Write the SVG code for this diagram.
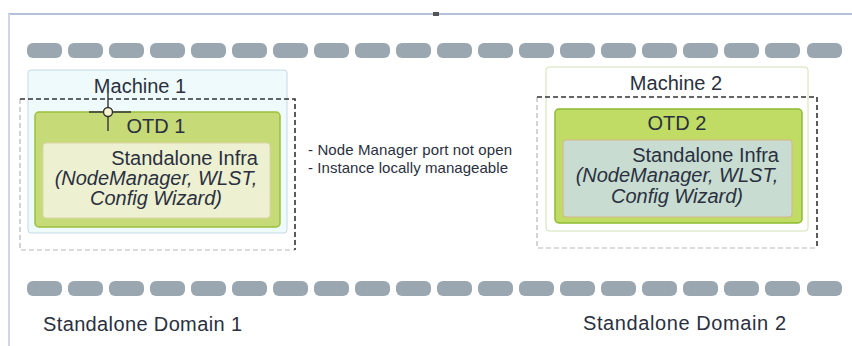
<svg xmlns="http://www.w3.org/2000/svg" width="852" height="346" viewBox="0 0 852 346">
<style>
text{font-family:"Liberation Sans",Arial,sans-serif;fill:#2a3040}
.big{font-size:20px}
.it{font-style:italic}
.note{font-size:15px}
.pill{fill:#9aa6b0}
.dk{stroke:#333;stroke-width:1.6;stroke-dasharray:5 3;fill:none}
.lt{stroke:#b8b8b8;stroke-width:1.2;stroke-dasharray:5 3;fill:none}
</style>
<defs>
<rect id="p" width="35" height="15" rx="6" class="pill"/>
</defs>
<rect width="852" height="346" fill="#fff"/>
<g id="frame">
<line x1="8" y1="14" x2="852" y2="14" stroke="#b6c2dc" stroke-width="2"/>
<line x1="9" y1="14" x2="9" y2="346" stroke="#d2d6ec" stroke-width="2"/>
<rect x="433" y="12" width="6" height="4" fill="#555"/>
</g>
<g id="pills-top">
<use href="#p" x="27" y="43"/><use href="#p" x="68" y="43"/><use href="#p" x="109" y="43"/><use href="#p" x="150" y="43"/><use href="#p" x="191" y="43"/><use href="#p" x="232" y="43"/><use href="#p" x="273" y="43"/><use href="#p" x="314" y="43"/><use href="#p" x="355" y="43"/><use href="#p" x="396" y="43"/><use href="#p" x="437" y="43"/><use href="#p" x="478" y="43"/><use href="#p" x="519" y="43"/><use href="#p" x="560" y="43"/><use href="#p" x="601" y="43"/><use href="#p" x="642" y="43"/><use href="#p" x="683" y="43"/><use href="#p" x="724" y="43"/><use href="#p" x="765" y="43"/><use href="#p" x="807" y="43"/>
</g>
<g id="pills-bottom">
<use href="#p" x="27" y="281"/><use href="#p" x="68" y="281"/><use href="#p" x="109" y="281"/><use href="#p" x="150" y="281"/><use href="#p" x="191" y="281"/><use href="#p" x="232" y="281"/><use href="#p" x="273" y="281"/><use href="#p" x="314" y="281"/><use href="#p" x="355" y="281"/><use href="#p" x="396" y="281"/><use href="#p" x="437" y="281"/><use href="#p" x="478" y="281"/><use href="#p" x="519" y="281"/><use href="#p" x="560" y="281"/><use href="#p" x="601" y="281"/><use href="#p" x="642" y="281"/><use href="#p" x="683" y="281"/><use href="#p" x="724" y="281"/><use href="#p" x="765" y="281"/><use href="#p" x="807" y="281"/>
</g>
<g id="machine1">
<rect x="28" y="70" width="259" height="163" rx="3" fill="#eefafb" stroke="#c6d8e6" stroke-width="1"/>
<text class="big" x="140" y="93" text-anchor="middle">Machine 1</text>
</g>
<g id="domain1-box">
<path class="lt" d="M20 99 V250 H295"/>
<path class="dk" d="M20 99 H295 V250"/>
</g>
<g id="otd1">
<rect x="35" y="112" width="245" height="115" rx="4" fill="#c6da78" stroke="#98c03c" stroke-width="1.5"/>
<text class="big" x="156" y="133" text-anchor="middle">OTD 1</text>
</g>
<g id="infra1">
<rect x="43" y="143" width="227" height="75" rx="3" fill="#eef0d2" stroke="#d8d6a8" stroke-width="1"/>
<text class="big" x="258" y="165" text-anchor="end">Standalone Infra</text>
<text class="big it" x="156" y="185" text-anchor="middle">(NodeManager, WLST,</text>
<text class="big it" x="156" y="205" text-anchor="middle">Config Wizard)</text>
</g>
<g id="marker1">
<line x1="89" y1="112" x2="131" y2="112" stroke="#333" stroke-width="1.4"/>
<line x1="108" y1="93" x2="108" y2="131" stroke="#333" stroke-width="1.4"/>
<circle cx="108" cy="112" r="4.5" fill="#f4f2d0" stroke="#333" stroke-width="1.4"/>
</g>
<g id="notes">
<text class="note" x="308" y="155" textLength="204">- Node Manager port not open</text>
<text class="note" x="308" y="173" textLength="200">- Instance locally manageable</text>
</g>
<g id="machine2">
<rect x="546" y="67" width="262" height="164" rx="3" fill="#fff" stroke="#d2e2b4" stroke-width="1"/>
<text class="big" x="676" y="90" text-anchor="middle">Machine 2</text>
</g>
<g id="domain2-box">
<path class="lt" d="M537 97 V248 H817"/>
<path class="dk" d="M537 97 H817 V248"/>
</g>
<g id="otd2">
<rect x="555" y="109" width="247" height="114" rx="4" fill="#c0dc64" stroke="#8cbc30" stroke-width="1.5"/>
<text class="big" x="677" y="130" text-anchor="middle">OTD 2</text>
</g>
<g id="infra2">
<rect x="563" y="140" width="229" height="77" rx="3" fill="#c8dcd2" stroke="#d6b48c" stroke-width="1"/>
<text class="big" x="779" y="162" text-anchor="end">Standalone Infra</text>
<text class="big it" x="677" y="182" text-anchor="middle">(NodeManager, WLST,</text>
<text class="big it" x="677" y="203" text-anchor="middle">Config Wizard)</text>
</g>
<g id="labels">
<text class="big" x="43" y="331" textLength="199">Standalone Domain 1</text>
<text class="big" x="583" y="330" textLength="203">Standalone Domain 2</text>
</g>
</svg>
